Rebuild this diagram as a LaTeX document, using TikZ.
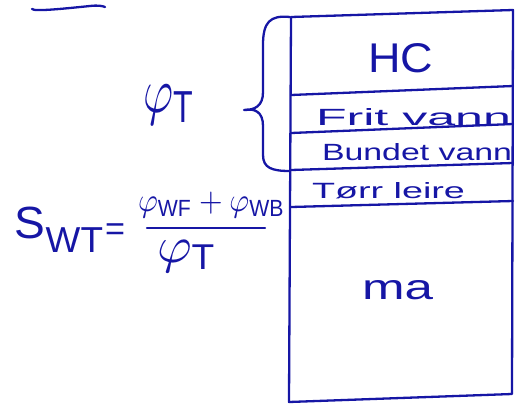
\documentclass[tikz,border=0pt]{standalone}
\usepackage{fontspec}
\setmainfont{Liberation Sans}
\usepackage{graphicx}
\definecolor{ink}{RGB}{22,22,165}
\begin{document}
\begin{tikzpicture}[x=1pt,y=-1pt,
  ink line/.style={draw=ink,line width=2.3pt,line cap=round,line join=round},
  lbl/.style={text=ink,inner sep=0pt,outer sep=0pt}]
\useasboundingbox (0,0) rectangle (517,405);
% top-left stroke
\coordinate (s1) at (32,9);
\coordinate (s2) at (105,7);
\draw[ink line] (s1) .. controls (34,12) and (70,8) .. (90,6) .. controls (98,5) and (103,6) .. (s2);
% box corners
\coordinate (tl) at (291,17);
\coordinate (tr) at (513,10);
\coordinate (bl) at (289,402);
\coordinate (br) at (512,394);
\draw[ink line] (tl) -- (tr) -- (br) -- (bl) -- cycle;
% layer lines
\coordinate (l1a) at (291,95);  \coordinate (l1b) at (513,86);
\coordinate (l2a) at (291,133); \coordinate (l2b) at (513,124);
\coordinate (l3a) at (291,170); \coordinate (l3b) at (513,163);
\coordinate (l4a) at (291,207); \coordinate (l4b) at (513,201);
\draw[ink line] (l1a) -- (l1b);
\draw[ink line] (l2a) -- (l2b);
\draw[ink line] (l3a) -- (l3b);
\draw[ink line] (l4a) -- (l4b);
% brace
\coordinate (bt) at (290,17);
\coordinate (bb) at (290,171);
\coordinate (tip) at (244,110);
\draw[ink line] (bt) .. controls (270,15) and (263,22) .. (263,45)
  -- (263,92) .. controls (263,106) and (255,110) .. (tip)
  .. controls (255,108) and (263,112) .. (263,126)
  -- (263,155) .. controls (263,168) and (272,171) .. (bb);
% layer labels
\node[lbl,anchor=north west] (hc) at (368,43) {\resizebox{65pt}{29pt}{HC}};
\node[lbl,anchor=base west] (fv) at (316,125) {\resizebox{195pt}{17pt}{Frit vann}};
\node[lbl,anchor=base west] (bv) at (322,160) {\resizebox{190pt}{17pt}{Bundet vann}};
\node[lbl,anchor=base west] (tl2) at (312,198) {\resizebox{153pt}{16pt}{Tørr leire}};
\node[lbl,anchor=base west] (ma) at (362,299) {\resizebox{71pt}{19pt}{ma}};
% phi_T with brace
\node[lbl,anchor=north west] (phiT) at (143,85) {\resizebox*{52pt}{40pt}{$\varphi_{\mathrm{T}}$}};
% formula
\node[lbl,anchor=north west] (sw) at (15,207) {\resizebox*{88pt}{45pt}{S\raisebox{-0.3em}{\scalebox{0.8}{WT}}}};
\node[lbl,anchor=center] (eq) at (115,232) {\resizebox{20pt}{!}{=}};
\node[lbl,anchor=north west] (num) at (138,192) {\resizebox*{147pt}{26pt}{$\varphi_{\mathrm{WF}}+\varphi_{\mathrm{WB}}$}};
\coordinate (f1) at (147,228);
\coordinate (f2) at (265,228);
\draw[ink line] (f1) -- (f2);
\node[lbl,anchor=north west] (den) at (157,240) {\resizebox*{60pt}{32pt}{$\varphi_{\mathrm{T}}$}};
\end{tikzpicture}
\end{document}
